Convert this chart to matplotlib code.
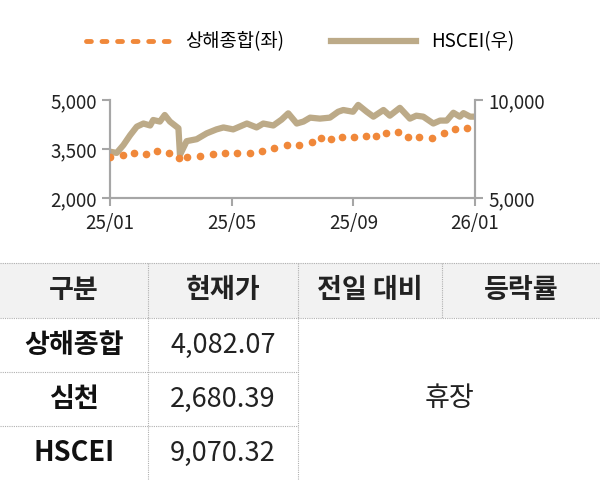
import matplotlib
matplotlib.use("Agg")
import matplotlib.pyplot as plt
from matplotlib.lines import Line2D

plt.rcParams['font.family'] = ['Noto Sans CJK KR', 'DejaVu Sans']

# Shanghai composite (left axis), month offsets from 2025-01
sh_month = [0.0, 0.42, 0.8, 1.18, 1.56, 1.95, 2.28, 2.52, 2.96, 3.38, 3.78, 4.16, 4.6, 4.99, 5.4, 5.81,
            6.22, 6.63, 6.93, 7.26, 7.64, 8.02, 8.41, 8.74, 9.07, 9.46, 9.79, 10.17, 10.58, 10.98, 11.34, 11.73]
sh_val = [3265, 3316, 3388, 3337, 3439, 3367, 3214, 3265, 3286, 3347, 3388, 3388, 3388, 3439, 3520, 3622,
          3622, 3724, 3827, 3806, 3878, 3857, 3908, 3898, 3980, 4010, 3857, 3878, 3847, 3980, 4102, 4133]

hs_month = [0, 0.22, 0.44, 0.66, 0.88, 1.1, 1.32, 1.42, 1.64, 1.8, 1.97, 2.25, 2.3, 2.52, 2.85, 3.18, 3.5,
            3.73, 4.05, 4.5, 4.82, 5.04, 5.37, 5.64, 5.86, 6.14, 6.36, 6.58, 6.9, 7.23, 7.5, 7.67, 7.99,
            8.16, 8.44, 8.66, 8.99, 9.2, 9.53, 9.86, 10.07, 10.3, 10.63, 10.85, 11.07, 11.29, 11.5, 11.62,
            11.84, 12.0]
hs_val = [7364, 7300, 7700, 8200, 8640, 8800, 8700, 8980, 8900, 9235, 8900, 8560, 7200, 7900, 8000, 8300,
          8500, 8600, 8500, 8800, 8600, 8800, 8700, 9000, 9320, 8800, 8900, 9100, 9050, 9100, 9400, 9490,
          9400, 9750, 9400, 9150, 9490, 9200, 9600, 9050, 9200, 9150, 8800, 8950, 8950, 9350, 9150, 9330,
          9150, 9150]

x_ticks = [0, 4, 8, 12]
x_labels = ['25/01', '25/05', '25/09', '26/01']

headers = ['구분', '현재가', '전일 대비', '등락률']
names = ['상해종합', '심천', 'HSCEI']
prices = ['4,082.07', '2,680.39', '9,070.32']
status = '휴장'

orange = '#f0883a'
tan = '#bcaa88'
grey = '#a6a6a6'

fig = plt.figure(figsize=(6, 4.8), dpi=100)
ax = fig.add_axes([110/600, 1-198/480, 365/600, 98/480])
ax2 = ax.twinx()
ax2.plot(hs_month, hs_val, color=tan, lw=4.5, solid_joinstyle='round')
ax.plot(sh_month, sh_val, 'o', color=orange, ms=4.5, zorder=5)
ax.set_zorder(ax2.get_zorder()+1); ax.patch.set_visible(False)
ax.set_xlim(0, 12)
ax.set_ylim(2000, 5000); ax.set_yticks([2000, 3500, 5000]); ax.set_yticklabels(['2,000', '3,500', '5,000'])
ax2.set_ylim(5000, 10000); ax2.set_yticks([5000, 10000]); ax2.set_yticklabels(['5,000', '10,000'])
ax.set_xticks(x_ticks); ax.set_xticklabels(x_labels)
for a in (ax, ax2):
    a.spines['top'].set_visible(False)
    for s in a.spines.values():
        s.set_color(grey); s.set_linewidth(1.5)
    a.tick_params(colors=grey, labelcolor='#222222', labelsize=13.5, width=1.5, length=6)
ax.tick_params(axis='x', pad=5)

handles = [Line2D([], [], color=orange, ls=(0, (1, 2.2)), lw=3.5, dash_capstyle='round'),
           Line2D([], [], color=tan, lw=4.5)]
fig.legend(handles, ['상해종합(좌)', 'HSCEI(우)'], loc='center', bbox_to_anchor=(0.5, 1-42/480),
           ncol=2, frameon=False, fontsize=13.5, handlelength=4.5, columnspacing=2.5)

# table
tax = fig.add_axes([0, 0, 1, 1]); tax.set_xlim(0, 600); tax.set_ylim(480, 0); tax.axis('off')
cols = [0, 148, 298, 442, 600]
rows = [263, 318, 372, 426, 480]
tax.add_patch(plt.Rectangle((0, rows[0]), 600, rows[1]-rows[0], color='#f2f2f2', lw=0))
dot = dict(color='#b0b0b0', lw=0.8, ls=(0, (1, 1)))
for y in rows[:2]:
    tax.plot([0, 600], [y, y], **dot)
for y in rows[2:4]:
    tax.plot([0, cols[2]], [y, y], **dot)
for x in cols[1:4]:
    tax.plot([x, x], [rows[0], rows[1]], **dot)
for x in cols[1:3]:
    tax.plot([x, x], [rows[1], rows[4]], **dot)
for i, h in enumerate(headers):
    tax.text((cols[i]+cols[i+1])/2, (rows[0]+rows[1])/2, h, ha='center', va='center',
             fontsize=19.5, fontweight='bold', color='#222222')
for r in range(3):
    yc = (rows[r+1]+rows[r+2])/2
    tax.text((cols[0]+cols[1])/2, yc, names[r], ha='center', va='center', fontsize=19.5,
             fontweight='bold', color='#111111')
    tax.text((cols[1]+cols[2])/2, yc, prices[r], ha='center', va='center', fontsize=19.5, color='#222222')
tax.text((cols[2]+cols[4])/2, (rows[1]+rows[4])/2, status, ha='center', va='center', fontsize=19.5, color='#222222')

fig.savefig('out.png', dpi=100)
